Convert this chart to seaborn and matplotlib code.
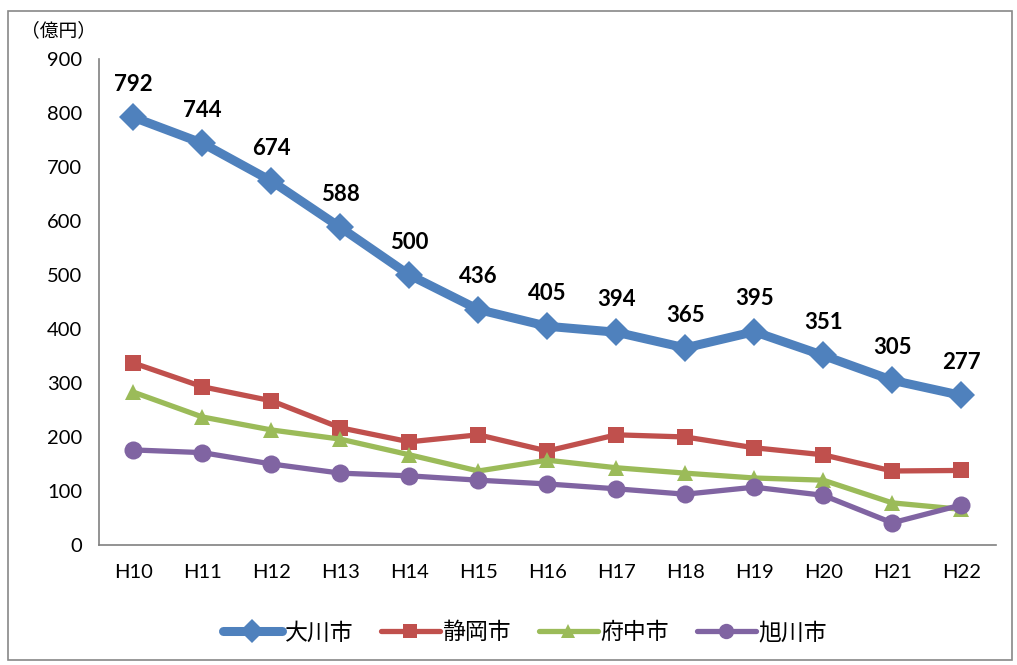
import pandas as pd
import seaborn as sns
import matplotlib.pyplot as plt
from matplotlib.patches import Rectangle

years = ["H10", "H11", "H12", "H13", "H14", "H15", "H16",
         "H17", "H18", "H19", "H20", "H21", "H22"]
okawa = [792, 744, 674, 588, 500, 436, 405, 394, 365, 395, 351, 305, 277]
shizuoka = [337, 293, 267, 217, 191, 204, 174, 204, 200, 180, 167, 137, 138]
fuchu = [283, 237, 213, 196, 167, 137, 157, 143, 133, 124, 120, 78, 66]
asahikawa = [176, 171, 150, 133, 128, 120, 113, 104, 94, 107, 92, 41, 74]

series = ["大川市", "静岡市", "府中市", "旭川市"]
colors = ["#4F81BD", "#C0504D", "#9BBB59", "#8064A2"]
markers = ["D", "s", "^", "o"]
widths = [6.5, 3.8, 3.8, 3.8]
msizes = [14, 12, 12, 13]

df = pd.DataFrame({"year": years, "大川市": okawa, "静岡市": shizuoka,
                   "府中市": fuchu, "旭川市": asahikawa})
df["idx"] = range(len(years))

sns.set_theme(style="white")
plt.rcParams['font.family'] = ['Lato', 'Noto Sans CJK JP', 'DejaVu Sans']
plt.rcParams['text.color'] = 'black'
plt.rcParams['xtick.color'] = 'black'
plt.rcParams['ytick.color'] = 'black'

fig = plt.figure(figsize=(10.17, 6.65), dpi=100)
ax = fig.add_axes([0.0973, 0.1805, 0.8817, 0.7308])

for name, c, m, lw, ms in zip(series, colors, markers, widths, msizes):
    sns.lineplot(data=df, x="idx", y=name, ax=ax, color=c, marker=m,
                 linewidth=lw, markersize=ms, markeredgewidth=0,
                 label=name, sort=False)

for i, v in enumerate(okawa):
    ax.annotate(str(v), (i, v), xytext=(0, 16), textcoords="offset points",
                ha="center", va="bottom", fontsize=16, fontweight="bold",
                color="black")

ax.set_xlim(-0.5, len(years) - 0.5)
ax.set_ylim(0, 900)
ax.set_yticks(range(0, 901, 100))
ax.set_xticks(range(len(years)))
ax.set_xticklabels(years)
ax.set_xticks([i - 0.5 for i in range(len(years) + 1)], minor=True)
ax.tick_params(axis="x", which="major", length=0, pad=14, labelsize=14.5)
ax.tick_params(axis="x", which="minor", length=6, color="#808080", width=1.2)
ax.tick_params(axis="y", length=6, color="#808080", width=1.2, labelsize=14.5, pad=6)
ax.set_xlabel("")
ax.set_ylabel("")
for s in ["top", "right"]:
    ax.spines[s].set_visible(False)
for s in ["left", "bottom"]:
    ax.spines[s].set_color("#808080")
    ax.spines[s].set_linewidth(1.2)

ax.text(-0.045, 1.04, "（億円）", transform=ax.transAxes, fontsize=13.5,
        ha="center", va="bottom")

handles, labels = ax.get_legend_handles_labels()
ax.legend(handles, labels, loc="center", bbox_to_anchor=(0.475, -0.18),
          ncol=4, frameon=False, fontsize=16.5, handlelength=2.6,
          columnspacing=1.2, handletextpad=0.1, markerscale=0.85)

fig.add_artist(Rectangle((0.008, 0.008), 0.987, 0.975, transform=fig.transFigure,
                         fill=False, edgecolor="#888888", linewidth=1.2))

fig.savefig("out.png", dpi=100)
